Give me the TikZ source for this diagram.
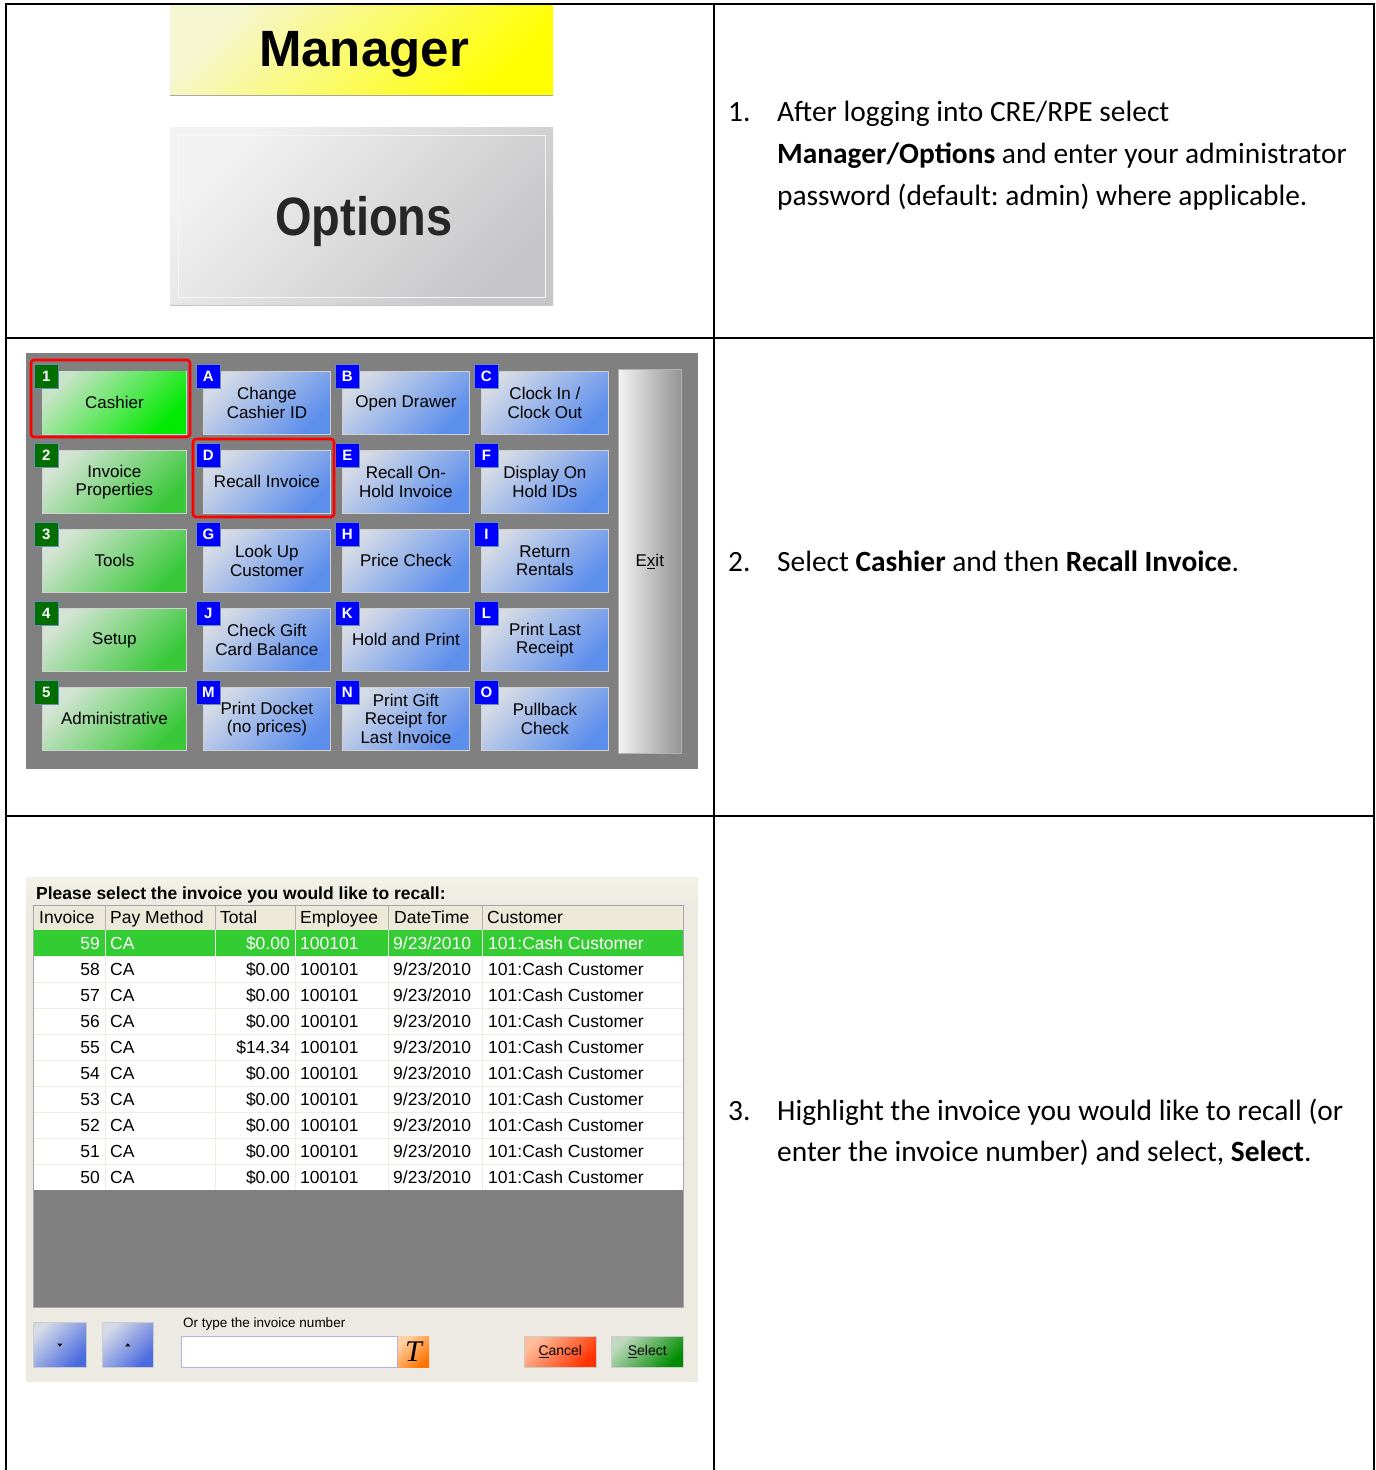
\documentclass[tikz,border=0pt]{standalone}
\usepackage{fontspec}
\setmainfont{Carlito}
\newfontfamily\arialf{Liberation Sans}
\newfontfamily\seriff{Liberation Serif}
\frenchspacing
\definecolor{gL}{HTML}{D4E4D4}
\definecolor{gD}{HTML}{38C838}
\definecolor{cashL}{HTML}{C8E4C8}
\definecolor{cashD}{HTML}{00EA00}
\definecolor{bL}{HTML}{D4DAE6}
\definecolor{bD}{HTML}{5C8EEC}
\definecolor{panel}{HTML}{808080}
\definecolor{badgeG}{HTML}{006E00}
\definecolor{badgeB}{HTML}{6A8CB4}
\definecolor{dlg}{HTML}{ECEAE2}
\definecolor{hdr}{HTML}{ECE9D8}
\definecolor{rowline}{HTML}{EEEDE2}
\definecolor{selrow}{HTML}{33CC33}
\definecolor{yelL}{HTML}{F6F6D2}
\definecolor{yelD}{HTML}{FFFF00}
\definecolor{optL}{HTML}{F2F2F2}
\definecolor{optD}{HTML}{C6C6C8}
\definecolor{arrD}{HTML}{4A6AE0}
\newcommand\mygbtn[6]{%
  \node[gbtn, top color=#5, shading angle=45] (#1) at (#2,#3) {#4};
  \node[nbadge] (#1b) at ([xshift=-8pt,yshift=7pt]#1.north west) {#6};}
\newcommand\mybbtn[5]{%
  \node[bbtn] (#1) at (#2,#3) {#4};
  \node[lbadge] (#1b) at ([xshift=-7pt,yshift=7pt]#1.north west) {#5};}
\begin{document}
\begin{tikzpicture}[x=1pt,y=-1pt,
  cell/.style={line width=1.6pt, black},
  steptxt/.style={anchor=base west, inner sep=0pt, font=\fontsize{29.4}{35}\selectfont},
  btn/.style={draw=white!82!black, line width=0.8pt, anchor=north west, inner sep=0pt,
     align=center, font=\arialf\fontsize{17}{18.5}\selectfont, minimum height=63pt},
  gbtn/.style={btn, minimum width=144pt, top color=gL, bottom color=gD, shading angle=45},
  bbtn/.style={btn, minimum width=127pt, top color=bL, bottom color=bD, shading angle=45},
  badge/.style={anchor=north west, minimum width=24pt, minimum height=24pt, inner sep=0pt,
     draw=badgeB, line width=0.8pt, text=white, font=\arialf\bfseries\fontsize{15}{15}\selectfont},
  nbadge/.style={badge, fill=badgeG},
  lbadge/.style={badge, fill=blue},
  hl/.style={draw=red, line width=2.6pt, rounded corners=3pt},
  tt/.style={anchor=base west, inner sep=0pt, font=\arialf\fontsize{17.5}{20}\selectfont},
  ttr/.style={tt, anchor=base east},
  smallbtn/.style={anchor=north west, inner sep=0pt, draw=white!80!black, line width=0.6pt,
     font=\arialf\fontsize{14}{14}\selectfont}
]
\useasboundingbox (0,0) rectangle (1376,1470);
\fill[white] (0,0) rectangle (1376,1470);

% ---------- row 1 : Manager / Options ----------
\node[anchor=north west, minimum width=383pt, minimum height=90pt, inner sep=0pt,
      top color=yelL, bottom color=yelD, shading angle=45] (manager) at (170,5) {};
\node[inner sep=0pt, font=\arialf\bfseries\fontsize{51}{51}\selectfont] (mgrlbl) at (364,54) {Manager};
\draw[gray!70, line width=1.5pt] (manager.south west) -- (manager.south east);
\node[anchor=north west, minimum width=383pt, minimum height=178pt, inner sep=0pt,
      top color=optL, bottom color=optD, shading angle=45] (options) at (170,127) {};
\draw[white!96!black, line width=0.5pt] ([shift={(8pt,-8pt)}]options.north west) rectangle ([shift={(-8pt,8pt)}]options.south east);
\draw[gray!45, line width=1.2pt] (options.south west) -- (options.south east);
\node[inner sep=0pt, xscale=0.87, text=black!85, font=\arialf\bfseries\fontsize{54}{54}\selectfont] (optlbl) at (364,222) {Options};

\node[steptxt] (n1) at (728,121) {1.};
\node[steptxt] (t1a) at (777,121) {After logging into CRE/RPE select};
\node[steptxt] (t1b) at (777,163) {\textbf{Manager/Options} and enter your administrator};
\node[steptxt] (t1c) at (777,205) {password (default: admin) where applicable.};

% ---------- row 2 : button grid ----------
\fill[panel] (26,353) rectangle (698,769);
\mygbtn{cashier}{42}{371}{}{cashL}{1}
\shade[top color=cashL, bottom color=cashD, shading angle=45] (42.4,371.4) rectangle (185.6,433.6);
\node[font=\arialf\fontsize{17}{18.5}\selectfont] (cashlbl) at (cashier.center) {Cashier};
\node[nbadge] (cashierb2) at ([xshift=-8pt,yshift=7pt]cashier.north west) {1};
\mybbtn{chg}{203}{371}{Change\\Cashier ID}{A}
\mybbtn{opn}{342}{371}{Open Drawer}{B}
\mybbtn{clk}{481}{371}{Clock In /\\Clock Out}{C}

\mygbtn{invp}{42}{450}{Invoice\\Properties}{gL}{2}
\mybbtn{rec}{203}{450}{Recall Invoice}{D}
\mybbtn{rech}{342}{450}{Recall On-\\Hold Invoice}{E}
\mybbtn{disp}{481}{450}{Display On\\Hold IDs}{F}

\mygbtn{tools}{42}{529}{Tools}{gL}{3}
\mybbtn{look}{203}{529}{Look Up\\Customer}{G}
\mybbtn{price}{342}{529}{Price Check}{H}
\mybbtn{ret}{481}{529}{Return\\Rentals}{I}

\mygbtn{setup}{42}{608}{Setup}{gL}{4}
\mybbtn{gift}{203}{608}{Check Gift\\Card Balance}{J}
\mybbtn{hold}{342}{608}{Hold and Print}{K}
\mybbtn{last}{481}{608}{Print Last\\Receipt}{L}

\mygbtn{admin}{42}{687}{Administrative}{gL}{5}
\mybbtn{dock}{203}{687}{Print Docket\\(no prices)}{M}
\mybbtn{pgift}{342}{687}{Print Gift\\Receipt for\\Last Invoice}{N}
\mybbtn{pull}{481}{687}{Pullback\\Check}{O}

\node[anchor=north west, minimum width=63pt, minimum height=384pt, inner sep=0pt,
      left color=white!95!black, right color=black!42, draw=white!70!black, line width=0.6pt,
      font=\arialf\fontsize{17}{18}\selectfont] (exit) at (618,369) {E\underline{x}it};

\draw[hl] (31,360) rectangle (190,437);
\draw[hl] (193,439) rectangle (334,517);

\node[steptxt] (n2) at (728,571) {2.};
\node[steptxt] (t2) at (777,571) {Select \textbf{Cashier} and then \textbf{Recall Invoice}.};

% ---------- row 3 : recall dialog ----------
\fill[dlg] (26,877) rectangle (698,1382);
\shade[top color=hdr!60!white, bottom color=dlg] (26,877) rectangle (698,905);
\node[tt, font=\arialf\bfseries\fontsize{17.5}{20}\selectfont] (title) at (36,899) {Please select the invoice you would like to recall:};
% header
\fill[hdr] (33,905) rectangle (683,930);
\foreach \cx in {105,215,295,388,482} \draw[black!30, line width=0.8pt] (\cx,906) -- (\cx,930);
\draw[black!35, line width=0.8pt] (33,930) -- (683,930);
\node[tt] (h1) at (39,923) {Invoice};
\node[tt] (h2) at (110,923) {Pay Method};
\node[tt] (h3) at (220,923) {Total};
\node[tt] (h4) at (300,923) {Employee};
\node[tt] (h5) at (394,923) {DateTime};
\node[tt] (h6) at (487,923) {Customer};
% body
\fill[white] (33,930) rectangle (683,1190);
\fill[selrow] (33,930) rectangle (683,956);
\foreach \k in {0,...,9} \draw[rowline, line width=1pt] (33,956+26*\k) -- (683,956+26*\k);
\foreach \cx in {105,215,295,388,482} \draw[rowline, line width=1pt] (\cx,930) -- (\cx,1190);
\foreach \inv/\tot [count=\k from 0] in {59/\$0.00,58/\$0.00,57/\$0.00,56/\$0.00,55/\$14.34,54/\$0.00,53/\$0.00,52/\$0.00,51/\$0.00,50/\$0.00}{
  \ifnum\k=0 \def\tc{white}\else\def\tc{black}\fi
  \node[ttr, text=\tc] (inv\k) at (100,949+26*\k) {\inv};
  \node[tt, text=\tc] (pay\k) at (110,949+26*\k) {CA};
  \node[ttr, text=\tc] (tot\k) at (290,949+26*\k) {\tot};
  \node[tt, text=\tc] (emp\k) at (300,949+26*\k) {100101};
  \node[tt, text=\tc] (dat\k) at (393,949+26*\k) {9/23/2010};
  \node[tt, text=\tc] (cus\k) at (488,949+26*\k) {101:Cash Customer};
}
\fill[panel] (33,1190) rectangle (683,1307);
\draw[black!35, line width=1pt] (33,905) rectangle (683,1307);
% bottom controls
\node[smallbtn, minimum width=53pt, minimum height=45pt, top color=bL, bottom color=arrD, shading angle=45] (down) at (33,1322) {};
\node[smallbtn, minimum width=51pt, minimum height=45pt, top color=bL, bottom color=arrD, shading angle=45] (up) at (102,1322) {};
\fill[black] ([shift={(-2.5pt,1.2pt)}]down.center) -- ([shift={(2.5pt,1.2pt)}]down.center) -- ([shift={(0pt,-1.8pt)}]down.center) -- cycle;
\fill[black] ([shift={(-2.5pt,-1.5pt)}]up.center) -- ([shift={(2.5pt,-1.5pt)}]up.center) -- ([shift={(0pt,1.5pt)}]up.center) -- cycle;
\node[anchor=base west, inner sep=0pt, font=\arialf\fontsize{13.5}{14}\selectfont] (orlbl) at (183,1327) {Or type the invoice number};
\node[anchor=north west, inner sep=0pt, minimum width=216pt, minimum height=31pt, fill=white, draw=black!30!blue!30!white, line width=0.8pt] (field) at (181,1336) {};
\node[anchor=north west, inner sep=0pt, minimum width=31pt, minimum height=31pt, top color=orange!35!white, bottom color=orange!90!red, shading angle=45,
      font=\seriff\itshape\fontsize{30}{30}\selectfont] (tbtn) at (field.north east) {T};
\node[smallbtn, minimum width=72pt, minimum height=31pt, top color=red!30!orange!40!white, bottom color=red!60!orange, shading angle=45] (cancel) at (524,1336) {\underline{C}ancel};
\node[smallbtn, minimum width=72pt, minimum height=31pt, top color=green!40!black!25!white, bottom color=green!55!black, shading angle=45] (select) at (611,1336) {\underline{S}elect};

\node[steptxt] (n3) at (728,1120) {3.};
\node[steptxt] (t3a) at (777,1120) {Highlight the invoice you would like to recall (or};
\node[steptxt] (t3b) at (777,1161) {enter the invoice number) and select, \textbf{Select}.};

% ---------- table rules ----------
\draw[cell] (6,1470) -- (6,4) -- (1374,4) -- (1374,1470);
\draw[cell] (714,4) -- (714,1470);
\draw[cell] (6,338) -- (1374,338);
\draw[cell] (6,816) -- (1374,816);
\end{tikzpicture}
\end{document}
